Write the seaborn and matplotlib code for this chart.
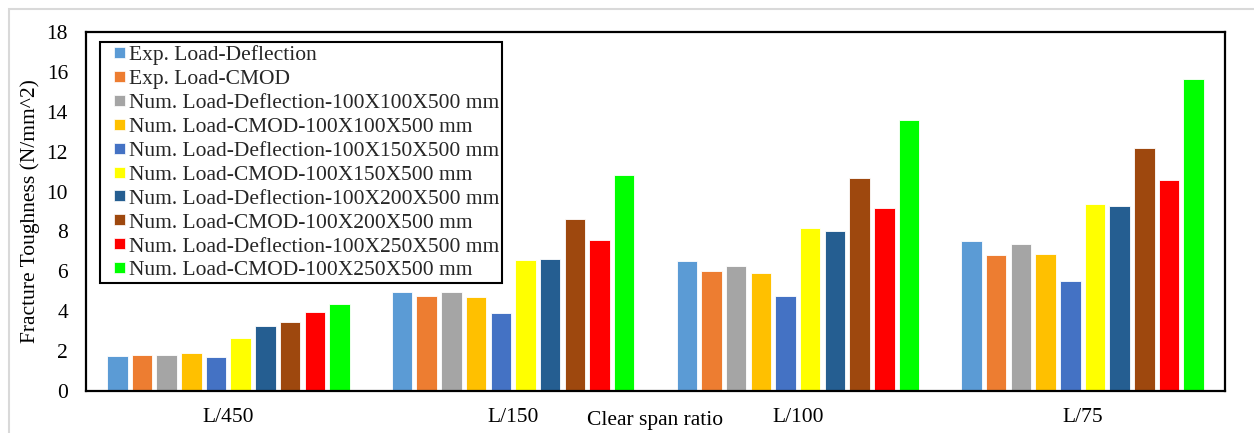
import matplotlib
matplotlib.use("Agg")
import matplotlib.pyplot as plt
from matplotlib.patches import Patch, Rectangle
from matplotlib.legend_handler import HandlerPatch
import seaborn as sns
import pandas as pd

# Clear span ratios on the category axis
categories = ["L/450", "L/150", "L/100", "L/75"]

# Fracture toughness (N/mm^2) per method, one value per span ratio
exp_load_deflection = [1.75, 4.97, 6.52, 7.52]
exp_load_cmod = [1.78, 4.78, 6.04, 6.82]
num_ld_100x100 = [1.83, 4.95, 6.29, 7.36]
num_cmod_100x100 = [1.92, 4.71, 5.91, 6.88]
num_ld_100x150 = [1.72, 3.89, 4.76, 5.51]
num_cmod_100x150 = [2.68, 6.57, 8.15, 9.39]
num_ld_100x200 = [3.28, 6.62, 8.01, 9.27]
num_cmod_100x200 = [3.48, 8.62, 10.66, 12.20]
num_ld_100x250 = [3.96, 7.58, 9.18, 10.59]
num_cmod_100x250 = [4.35, 10.85, 13.60, 15.65]

series_names = [
    "Exp. Load-Deflection",
    "Exp. Load-CMOD",
    "Num. Load-Deflection-100X100X500 mm",
    "Num. Load-CMOD-100X100X500 mm",
    "Num. Load-Deflection-100X150X500 mm",
    "Num. Load-CMOD-100X150X500 mm",
    "Num. Load-Deflection-100X200X500 mm",
    "Num. Load-CMOD-100X200X500 mm",
    "Num. Load-Deflection-100X250X500 mm",
    "Num. Load-CMOD-100X250X500 mm",
]
series_values = [
    exp_load_deflection, exp_load_cmod,
    num_ld_100x100, num_cmod_100x100,
    num_ld_100x150, num_cmod_100x150,
    num_ld_100x200, num_cmod_100x200,
    num_ld_100x250, num_cmod_100x250,
]
colors = [
    "#5B9BD5", "#ED7D31", "#A5A5A5", "#FFC000", "#4472C4",
    "#FFFF00", "#255E91", "#9E480E", "#FF0000", "#00FF00",
]

rows = []
for name, vals in zip(series_names, series_values):
    for cat, v in zip(categories, vals):
        rows.append({"ratio": cat, "series": name, "toughness": v})
df = pd.DataFrame(rows)

sns.set_theme(style="white")
plt.rcParams["font.family"] = ["Liberation Serif", "DejaVu Serif"]
FS = 15.5
plt.rcParams["font.size"] = FS

fig = plt.figure(figsize=(12.54, 4.33), dpi=100)
fig.patch.set_facecolor("white")
ax = fig.add_axes([86 / 1254, 1 - 391 / 433, 1139 / 1254, 359 / 433])

sns.barplot(
    data=df, x="ratio", y="toughness", hue="series",
    order=categories, hue_order=series_names, palette=colors,
    saturation=1, width=0.867, gap=0.17, edgecolor="white", linewidth=0.6,
    legend=False, ax=ax,
)

ax.set_ylim(0, 18)
ax.set_yticks(range(0, 19, 2))
ax.set_xlim(-0.5, len(categories) - 0.5)
ax.tick_params(axis="both", length=0, labelsize=FS, colors="black")
ax.tick_params(axis="y", pad=13)
ax.tick_params(axis="x", pad=12)
ax.set_ylabel("Fracture Toughness (N/mm^2)", fontsize=FS, color="black", labelpad=5)
ax.set_xlabel("Clear span ratio", fontsize=FS, color="black", labelpad=-11)
for sp in ax.spines.values():
    sp.set_visible(True)
    sp.set_color("black")
    sp.set_linewidth(1.6)


# Small square key placed at the right end of the handle slot
def square_key(legend, orig_handle, xdescent, ydescent, width, height, fontsize):
    s = 11 * 72 / 100
    return Rectangle((-xdescent + width - s, -ydescent + (height - s) / 2), s, s)


handles = [Patch(facecolor=c, edgecolor="white", linewidth=0.5) for c in colors]
leg = ax.legend(
    handles, series_names, loc="upper left",
    bbox_to_anchor=(14 / 1139, (391 - 42) / 359), borderaxespad=0,
    fontsize=FS, frameon=True, fancybox=False, framealpha=1,
    handlelength=1.0, handleheight=0.5, handletextpad=0.2,
    labelspacing=0.23, borderpad=0.14,
    handler_map={Patch: HandlerPatch(patch_func=square_key)},
)
leg.get_frame().set_edgecolor("black")
leg.get_frame().set_linewidth(1.5)

# Light grey outline around the whole chart area
fig.patches.append(Rectangle(
    (9 / 1254, -0.05), 1.1, 1.05 - 9 / 433,
    transform=fig.transFigure, fill=False,
    edgecolor="#D9D9D9", linewidth=1.5, zorder=0,
))

fig.savefig("out.png", dpi=100)
